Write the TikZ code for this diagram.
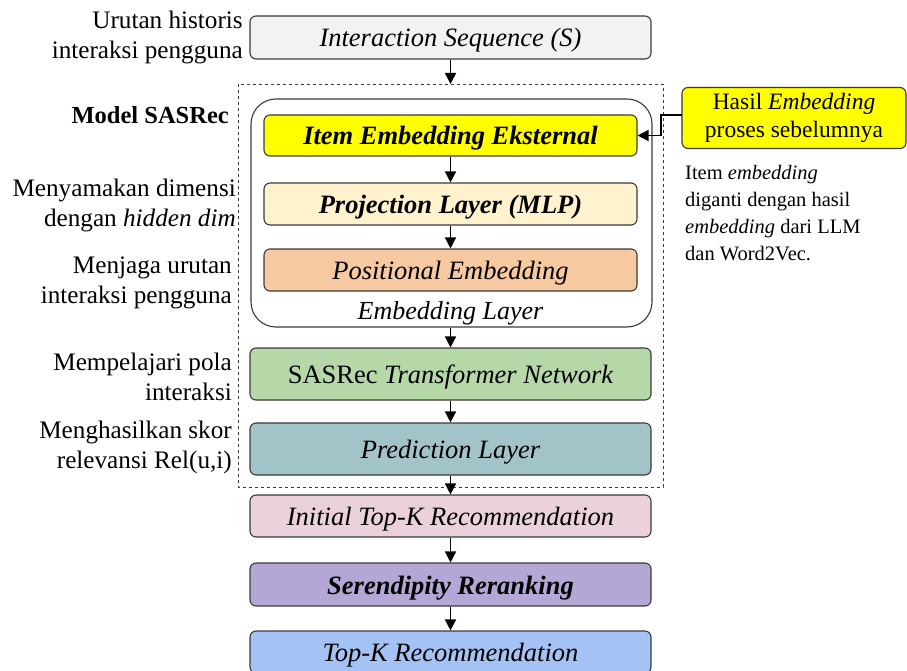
\documentclass[tikz,border=0pt]{standalone}
\usepackage{fontspec}
\setmainfont{Liberation Serif}
\usetikzlibrary{arrows.meta,positioning,calc}
\definecolor{cinter}{HTML}{F2F2F2}
\definecolor{citem}{HTML}{FFFF00}
\definecolor{cproj}{HTML}{FFF2CC}
\definecolor{cpos}{HTML}{F6C9A0}
\definecolor{csas}{HTML}{B6D7A8}
\definecolor{cpred}{HTML}{A2C4C9}
\definecolor{cinit}{HTML}{EAD1DC}
\definecolor{cser}{HTML}{B4A7D6}
\definecolor{ctopk}{HTML}{A4C2F4}
\definecolor{cedge}{HTML}{3A3A3A}
\tikzset{
  x=1pt,y=-1pt,
  box/.style={draw=cedge,line width=1.1pt,rounded corners=6pt,minimum width=401pt,inner sep=0pt,text height=19pt,text depth=0pt,font=\fontsize{26.5}{30}\selectfont},
  inbox/.style={box,minimum width=373pt},
  lbl/.style={align=right,anchor=east,inner sep=0pt,font=\fontsize{25.2}{30}\selectfont},
  arr/.style={line width=1.4pt,-{Triangle[width=11pt,length=11pt]}},
}
\begin{document}
\begin{tikzpicture}
\useasboundingbox (0,0) rectangle (907,671);
% dashed model box
\draw[dashed,line width=0.9pt,draw=cedge] (238,84) rectangle (663,487);
\coordinate (dtop) at (450.5,84);
% embedding layer rounded box
\node[draw=cedge,line width=1.1pt,rounded corners=25pt,minimum width=401pt,minimum height=228pt,inner sep=0pt] (emb) at (451.5,213) {};
\node[font=\fontsize{26}{30}\selectfont\itshape,inner sep=0pt] (embl) at (450.5,313) {Embedding Layer};
% main boxes
\node[box,fill=cinter,minimum height=43pt] (inter) at (450.5,37.5) {\itshape Interaction Sequence (S)};
\node[inbox,fill=citem,minimum height=41pt] (item) at (450.5,135.5) {\bfseries\itshape Item Embedding Eksternal};
\node[inbox,fill=cproj,minimum height=42pt] (proj) at (450.5,204) {\bfseries\itshape Projection Layer (MLP)};
\node[inbox,fill=cpos,minimum height=42pt] (pos) at (450.5,270) {\itshape Positional Embedding};
\node[box,fill=csas,minimum height=52pt] (sas) at (450.5,374) {SASRec \itshape Transformer Network};
\node[box,fill=cpred,minimum height=52pt] (pred) at (450.5,449) {\itshape Prediction Layer};
\node[box,fill=cinit,minimum height=42pt] (init) at (450.5,516) {\itshape Initial Top-K Recommendation};
\node[box,fill=cser,minimum height=43pt] (ser) at (450.5,584.5) {\bfseries\itshape Serendipity Reranking};
\node[box,fill=ctopk,minimum height=42pt] (topk) at (450.5,652) {\itshape Top-K Recommendation};
% side yellow box
\node[draw=cedge,line width=1.1pt,rounded corners=6pt,fill=citem,minimum width=224pt,minimum height=61pt,inner sep=0pt,align=center,font=\fontsize{23.5}{28}\selectfont] (hasil) at (794,118) {Hasil \textit{Embedding}\\proses sebelumnya};
\node[align=left,anchor=west,inner sep=0pt,font=\fontsize{20.5}{27}\selectfont] (note) at (685,213) {Item \textit{embedding}\\diganti dengan hasil\\\textit{embedding} dari LLM\\dan Word2Vec.};
\coordinate (hasilL) at (682,115);
% arrows
\draw[arr] (inter.south) -- (dtop);
\draw[arr] (item.south) -- (proj.north);
\draw[arr] (proj.south) -- (pos.north);
\draw[arr] (emb.south -| sas.north) -- (sas.north);
\draw[arr] (sas.south) -- (pred.north);
\draw[arr] (pred.south) -- (init.north);
\draw[arr] (init.south) -- (ser.north);
\draw[arr] (ser.south) -- (topk.north);
\draw[arr] (hasilL) -- ++(-21,0) |- (item.east);
% left labels
\node[lbl] (l1) at (243,37) {Urutan historis\\interaksi pengguna};
\node[lbl,font=\fontsize{24.5}{30}\selectfont\bfseries] (l2) at (229,115) {Model SASRec};
\node[lbl] (l3) at (236,205) {Menyamakan dimensi\\dengan \textit{hidden dim}};
\node[lbl] (l4) at (232,283) {Menjaga urutan\\interaksi pengguna};
\node[lbl] (l5) at (232,377) {Mempelajari pola\\interaksi};
\node[lbl] (l6) at (232,447) {Menghasilkan skor\\relevansi Rel(u,i)};
\end{tikzpicture}
\end{document}
